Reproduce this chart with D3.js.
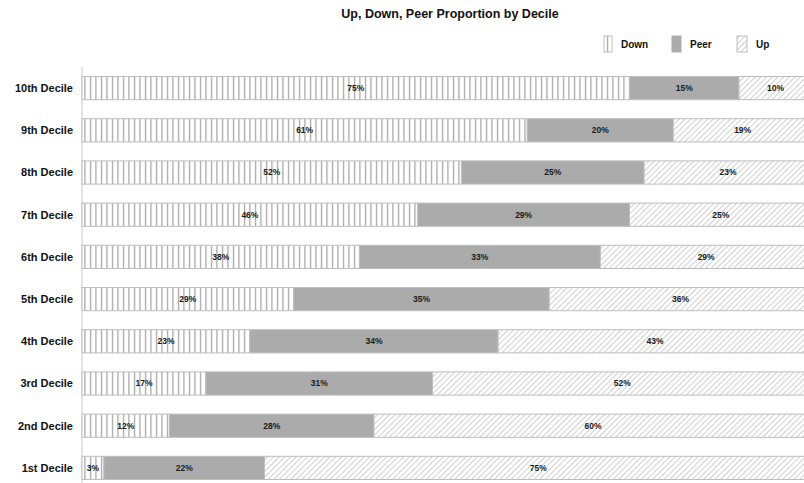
<!DOCTYPE html>
<html>
<head>
<meta charset="utf-8">
<script src="https://cdn.jsdelivr.net/npm/d3@7"></script>
<style>
  body { margin: 0; background: #fff; overflow: hidden; }
  text { font-family: "Liberation Sans", Arial, sans-serif; }
</style>
</head>
<body>
<div id="chart"></div>
<script>
const deciles = ["10th Decile", "9th Decile", "8th Decile", "7th Decile", "6th Decile",
                 "5th Decile", "4th Decile", "3rd Decile", "2nd Decile", "1st Decile"];
const down = [75, 61, 52, 46, 38, 29, 23, 17, 12, 3];
const peer = [15, 20, 25, 29, 33, 35, 34, 31, 28, 22];
const up   = [10, 19, 23, 25, 29, 36, 43, 52, 60, 75];
const seriesNames = ["Down", "Peer", "Up"];

const width = 804, height = 483;
// the plot runs past the right edge of the picture (cropped), so range ends beyond width
const margin = { top: 67, right: -8, bottom: -6, left: 82 };

const svg = d3.select("#chart").append("svg")
    .attr("width", width)
    .attr("height", height);

// patterns
let defs = svg.append("defs");
let pDown = defs.append("pattern")
    .attr("id", "pDown")
    .attr("patternUnits", "userSpaceOnUse")
    .attr("width", 5.5).attr("height", 10);
pDown.append("rect").attr("width", 5.5).attr("height", 10).attr("fill", "#fff");
pDown.append("line")
    .attr("x1", 2.5).attr("x2", 2.5).attr("y1", 0).attr("y2", 10)
    .attr("stroke", "#8f8f8f").attr("stroke-width", 1);

let pUp = defs.append("pattern")
    .attr("id", "pUp")
    .attr("patternUnits", "userSpaceOnUse")
    .attr("width", 4).attr("height", 4)
    .attr("patternTransform", "rotate(45)");
pUp.append("rect").attr("width", 4).attr("height", 4).attr("fill", "#fff");
pUp.append("line")
    .attr("x1", 0).attr("x2", 0).attr("y1", 0).attr("y2", 4)
    .attr("stroke", "#b0b0b0").attr("stroke-width", 1.2);

const fills = { Down: "url(#pDown)", Peer: "#ababab", Up: "url(#pUp)" };

// title
svg.append("text")
    .attr("x", 450).attr("y", 18)
    .attr("text-anchor", "middle")
    .style("font-size", "12.5px")
    .style("font-weight", "bold")
    .attr("fill", "#111")
    .text("Up, Down, Peer Proportion by Decile");

const x = d3.scaleLinear()
    .domain([0, 100])
    .range([margin.left, width - margin.right]);

const y = d3.scaleBand()
    .domain(deciles)
    .range([margin.top, height - margin.bottom])
    .paddingInner(0.45)
    .paddingOuter(0.225);

// stacked data
const rows = deciles.map(function (d, i) {
    return { decile: d, Down: down[i], Peer: peer[i], Up: up[i] };
});
const stacked = d3.stack().keys(seriesNames)(rows);

// axis line
svg.append("line")
    .attr("x1", margin.left).attr("x2", margin.left)
    .attr("y1", margin.top).attr("y2", height)
    .attr("stroke", "#c8c8c8").attr("stroke-width", 1);

// category labels
svg.selectAll(".catLabel")
    .data(deciles)
    .enter().append("text")
    .attr("class", "catLabel")
    .attr("x", margin.left - 9)
    .attr("y", function (d) { return y(d) + y.bandwidth() / 2; })
    .attr("dy", "0.35em")
    .attr("text-anchor", "end")
    .style("font-size", "11px")
    .style("font-weight", "bold")
    .attr("fill", "#111")
    .text(function (d) { return d; });

// bars
let groups = svg.selectAll(".series")
    .data(stacked)
    .enter().append("g")
    .attr("class", "series")
    .attr("fill", function (d) { return fills[d.key]; });

groups.selectAll("rect")
    .data(function (d) { return d; })
    .enter().append("rect")
    .attr("x", function (d) { return x(d[0]); })
    .attr("y", function (d) { return y(d.data.decile); })
    .attr("width", function (d) { return x(d[1]) - x(d[0]); })
    .attr("height", y.bandwidth())
    .attr("stroke", "#bdbdbd")
    .attr("stroke-width", 1);

// value labels
groups.selectAll(".valLabel")
    .data(function (d) { return d; })
    .enter().append("text")
    .attr("class", "valLabel")
    .attr("x", function (d) { return (x(d[0]) + x(d[1])) / 2; })
    .attr("y", function (d) { return y(d.data.decile) + y.bandwidth() / 2; })
    .attr("dy", "0.35em")
    .attr("text-anchor", "middle")
    .style("font-size", "8.5px")
    .style("font-weight", "bold")
    .attr("fill", "#1a1a1a")
    .text(function (d) { return (d[1] - d[0]) + "%"; });

// legend
const legendPos = [
    { key: "Down", x: 604, w: 8 },
    { key: "Peer", x: 672, w: 9 },
    { key: "Up", x: 737, w: 10 }
];
let legend = svg.selectAll(".legend")
    .data(legendPos)
    .enter().append("g")
    .attr("class", "legend");
legend.append("rect")
    .attr("x", function (d) { return d.x; })
    .attr("y", 36)
    .attr("width", function (d) { return d.w; })
    .attr("height", 16)
    .attr("fill", function (d) { return fills[d.key]; })
    .attr("stroke", function (d) { return d.key == "Peer" ? "#ababab" : "#bdbdbd"; })
    .attr("stroke-width", 1);
legend.append("text")
    .attr("x", function (d) { return d.x + d.w + 9; })
    .attr("y", 44)
    .attr("dy", "0.35em")
    .style("font-size", "10px")
    .style("font-weight", "bold")
    .attr("fill", "#111")
    .text(function (d) { return d.key; });
</script>
</body>
</html>
